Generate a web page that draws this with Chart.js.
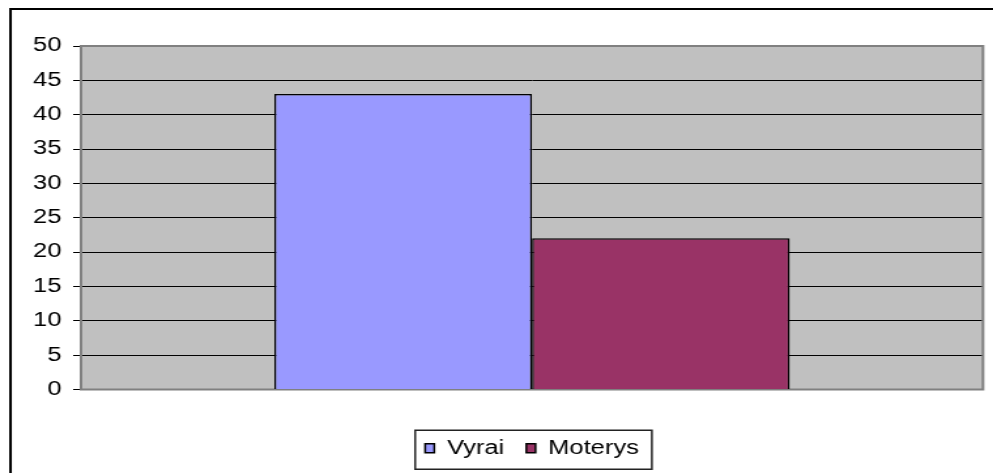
<!DOCTYPE html>
<html>
<head>
<meta charset="utf-8">
<script src="https://cdn.jsdelivr.net/npm/chart.js@4.4.0/dist/chart.umd.min.js"></script>
<style>
    html, body { margin: 0; padding: 0; background: #fff; overflow: hidden; }
    /* the original picture is stretched sideways, so the chart is drawn narrow and scaled */
    #wrap { width: 760px; height: 473px; transform: scaleX(1.30658); transform-origin: 0 0; }
</style>
</head>
<body>
<div id="wrap"><canvas id="graph" width="760" height="473"></canvas></div>
<script>
// Данные
var categories = [''];
var seriesNames = ['Vyrai', 'Moterys'];
var vyrai = [43];
var moterys = [22];
var seriesColors = ['#9999FF', '#993366'];
var yMin = 0;
var yMax = 50;
var yStep = 5;

var SX = 1.30658;
var fontFamily = '"Liberation Sans", Arial, sans-serif';

// Фон, рамки
var framePlugin = {
    id: 'frame',
    beforeDraw: function (chart) {
        var c = chart.ctx;
        var a = chart.chartArea;
        c.save();
        c.fillStyle = '#ffffff';
        c.fillRect(0, 0, chart.width, chart.height);
        c.fillStyle = '#c0c0c0';
        c.fillRect(a.left, a.top, a.right - a.left, a.bottom - a.top);
        c.restore();
    },
    beforeDatasetsDraw: function (chart) {
        var c = chart.ctx;
        var a = chart.chartArea;
        c.save();
        c.strokeStyle = '#808080';
        c.lineWidth = 2;
        c.strokeRect(a.left, a.top, a.right - a.left, a.bottom - a.top);
        c.restore();
    },
    afterDraw: function (chart) {
        var c = chart.ctx;
        c.save();
        c.strokeStyle = '#000000';
        // outer border (only top and left are visible)
        c.lineWidth = 2;
        c.beginPath();
        c.moveTo(10.5 / SX, chart.height + 5);
        c.lineTo(10.5 / SX, 9);
        c.lineTo(chart.width + 5, 9);
        c.stroke();
        // legend border
        var hb = chart.legend.legendHitBoxes;
        if (hb && hb.length) {
            var first = hb[0];
            var last = hb[hb.length - 1];
            var l = first.left - 10 / SX;
            var r = last.left + last.width + 13 / SX;
            var t = first.top + first.height / 2 - 18;
            var b = first.top + first.height / 2 + 21;
            c.lineWidth = 1.5;
            c.strokeStyle = '#222222';
            c.strokeRect(l, t, r - l, b - t);
        }
        c.restore();
    }
};

var ctx = document.getElementById('graph').getContext('2d');

var Graph = new Chart(ctx, {
    type: 'bar',
    data: {
        labels: categories,
        datasets: [
            {
                label: seriesNames[0],
                data: vyrai,
                backgroundColor: seriesColors[0],
                borderColor: '#000000',
                borderWidth: 1.5,
                categoryPercentage: 2 / 3.5,
                barPercentage: 1
            },
            {
                label: seriesNames[1],
                data: moterys,
                backgroundColor: seriesColors[1],
                borderColor: '#000000',
                borderWidth: 1.5,
                categoryPercentage: 2 / 3.5,
                barPercentage: 1
            }
        ]
    },
    options: {
        responsive: false,
        animation: false,
        devicePixelRatio: 1,
        layout: {
            padding: { top: 46, left: 0, right: 10 / SX, bottom: 5 }
        },
        scales: {
            x: {
                ticks: { display: false },
                grid: { display: false },
                border: { display: false },
                afterFit: function (s) { s.height = 32; }
            },
            y: {
                min: yMin,
                max: yMax,
                ticks: {
                    stepSize: yStep,
                    color: '#000000',
                    padding: 9,
                    font: { family: fontFamily, size: 19.5 }
                },
                grid: {
                    color: '#000000',
                    lineWidth: 1,
                    tickLength: 6,
                    tickColor: '#000000'
                },
                border: { display: true, color: '#404040', width: 1.5 },
                afterFit: function (s) { s.width = 81 / SX; }
            }
        },
        plugins: {
            legend: {
                display: true,
                position: 'bottom',
                fullSize: false,
                labels: {
                    boxWidth: 7,
                    boxHeight: 9,
                    padding: 17,
                    color: '#000000',
                    font: { family: fontFamily, size: 19.5 }
                }
            },
            tooltip: { enabled: false }
        }
    },
    plugins: [framePlugin]
});
</script>
</body>
</html>
